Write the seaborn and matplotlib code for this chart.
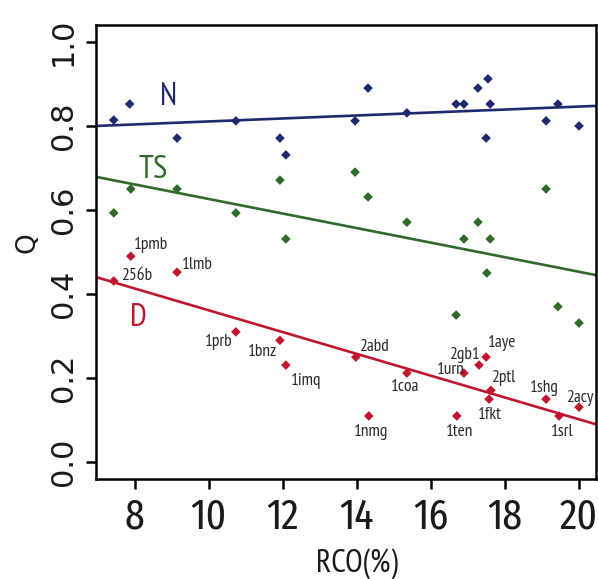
import numpy as np
import pandas as pd
import matplotlib
matplotlib.use("Agg")
import matplotlib.pyplot as plt
import seaborn as sns

# ==========================
# DATOS
# ==========================

# Grupo N (azul)
rco_N = [7.43, 7.86, 9.14, 10.73, 11.92, 12.08, 13.95, 14.30, 15.35, 16.68,
         16.89, 17.27, 17.54, 17.60, 17.49, 19.11, 19.43, 20.00]
q_N = [0.814, 0.852, 0.771, 0.812, 0.771, 0.731, 0.812, 0.890, 0.831, 0.852,
       0.852, 0.890, 0.912, 0.852, 0.771, 0.812, 0.852, 0.800]

# Grupo TS (verde)
rco_TS = [7.43, 7.89, 9.14, 10.73, 11.92, 12.08, 13.95, 14.30, 15.35, 16.89,
          17.27, 17.60, 17.51, 19.11, 16.68, 19.43, 20.00]
q_TS = [0.593, 0.650, 0.650, 0.593, 0.671, 0.531, 0.690, 0.631, 0.571, 0.531,
        0.571, 0.531, 0.450, 0.650, 0.350, 0.370, 0.331]

# Grupo D (rojo) con etiquetas PDB
labels_D = ["1pmb", "256b", "1lmb", "1prb", "1bnz", "1imq", "2abd", "1coa",
            "1nmg", "1urn", "2gb1", "1aye", "2ptl", "1fkt", "1ten", "1shg",
            "1srl", "2acy"]
rco_D = [7.89, 7.43, 9.14, 10.73, 11.92, 12.08, 13.97, 15.35, 14.32, 16.89,
         17.30, 17.49, 17.62, 17.57, 16.70, 19.11, 19.46, 20.00]
q_D = [0.490, 0.431, 0.452, 0.310, 0.290, 0.231, 0.250, 0.212, 0.110, 0.212,
       0.231, 0.250, 0.171, 0.150, 0.110, 0.150, 0.110, 0.131]

# Rectas de ajuste: valores de Q en RCO = 7 y RCO = 20
fit_x = [7, 20]
fit_N = [0.800, 0.846]
fit_TS = [0.678, 0.453]
fit_D = [0.439, 0.102]

# ==========================
# ESTILO
# ==========================

colores = {"N": "#1f2a6e", "TS": "#2f6a2a", "D": "#c0172f"}
narrow = ["PT Sans Narrow", "DejaVu Sans"]
cond = ["Fira Sans Extra Condensed", "DejaVu Sans"]

df = pd.concat([
    pd.DataFrame({"rco": rco_N, "q": q_N, "grupo": "N"}),
    pd.DataFrame({"rco": rco_TS, "q": q_TS, "grupo": "TS"}),
    pd.DataFrame({"rco": rco_D, "q": q_D, "grupo": "D"}),
], ignore_index=True)

sns.set_theme(style="ticks")

fig = plt.figure(figsize=(5.98, 5.79), dpi=100)
ax = fig.add_axes([0.1605, 0.1727, 0.8362, 0.7841])

# Puntos
sns.scatterplot(data=df, x="rco", y="q", hue="grupo", palette=colores,
                marker="D", s=24, linewidth=0, legend=False, ax=ax, zorder=3)

# Rectas
for grupo, fit in [("N", fit_N), ("TS", fit_TS), ("D", fit_D)]:
    ax.axline((fit_x[0], fit[0]), (fit_x[1], fit[1]), color=colores[grupo],
              lw=1.9, zorder=2)

# Etiquetas de los puntos D (desplazamiento en pixeles, alineación)
offsets = {
    "1pmb": (3, 11, "left"), "256b": (7, 5, "left"), "1lmb": (5, 7, "left"),
    "1prb": (-3, -10, "right"), "1bnz": (-3, -12, "right"),
    "1imq": (5, -16, "left"), "2abd": (3, 10, "left"),
    "1coa": (-2, -14, "center"), "1nmg": (2, -16, "center"),
    "1urn": (1, 3, "right"), "2gb1": (1, 10, "right"),
    "1aye": (2, 14, "left"), "2ptl": (0, 12, "left"),
    "1fkt": (1, -16, "center"), "1ten": (3, -16, "center"),
    "1shg": (-2, 11, "center"), "2acy": (1, 9, "center"),
    "1srl": (3, -16, "center"),
}
for lab, x, y in zip(labels_D, rco_D, q_D):
    dx, dy, ha = offsets[lab]
    ax.annotate(lab, (x, y), xytext=(dx, dy), textcoords="offset pixels",
                ha=ha, va="center", fontsize=12.5, color="#2a2a2a",
                family=narrow)

# Nombres de los grupos
ax.text(8.9, 0.868, "N", color=colores["N"], fontsize=23, family=narrow,
        ha="center", va="center")
ax.text(8.5, 0.694, "TS", color=colores["TS"], fontsize=24, family=narrow,
        ha="center", va="center")
ax.text(8.1, 0.343, "D", color=colores["D"], fontsize=23, family=narrow,
        ha="center", va="center")

# Ejes
ax.set_xlim(6.95, 20.46)
ax.set_ylim(-0.04, 1.04)
ax.set_xticks(np.arange(8, 21, 2))
ax.set_yticks(np.arange(0, 1.01, 0.2))
ax.set_yticklabels([f"{v:.1f}" for v in np.arange(0, 1.01, 0.2)],
                   rotation=90, va="center", fontsize=22, family="DejaVu Sans",
                   color="#1a1a1a")
ax.set_xticklabels([f"{v}" for v in range(8, 21, 2)], fontsize=31,
                   family=cond, color="#1a1a1a")
ax.tick_params(axis="both", direction="out", length=7, width=1.8,
               color="black")
ax.tick_params(axis="x", pad=6)
ax.tick_params(axis="y", pad=6)

for sp in ax.spines.values():
    sp.set_linewidth(1.8)
    sp.set_color("black")

ax.set_xlabel("RCO(%)", fontsize=23, family=narrow, color="#1a1a1a")
ax.set_ylabel("Q", fontsize=19, family="DejaVu Sans", color="#1a1a1a")
ax.xaxis.label.set_va("center")
ax.xaxis.set_label_coords(0.522, -0.186)
ax.yaxis.set_label_coords(-0.11, 0.52)

plt.savefig("out.png", dpi=100)
